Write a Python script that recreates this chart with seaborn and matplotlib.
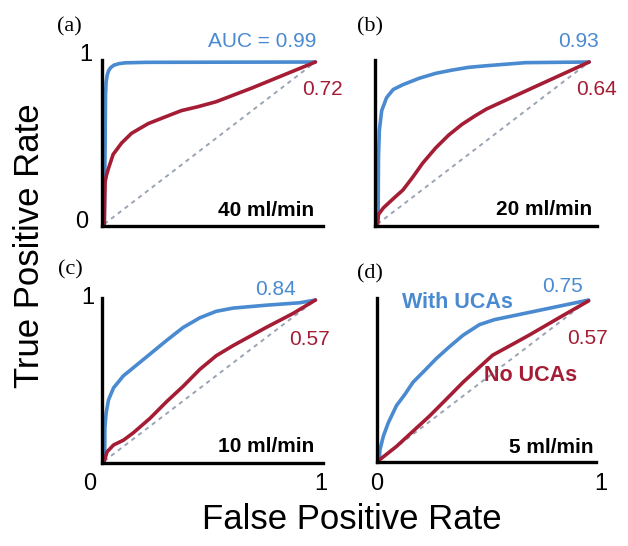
import numpy as np
import pandas as pd
import matplotlib
matplotlib.use("Agg")
import matplotlib.pyplot as plt
import seaborn as sns

# ROC curve points (FPR, TPR)
a_with_fpr = [0, 0.004, 0.006, 0.009, 0.014, 0.02, 0.03, 0.045, 0.07, 0.1, 0.2, 1.0]
a_with_tpr = [0, 0.5, 0.8, 0.88, 0.92, 0.945, 0.965, 0.98, 0.99, 0.995, 0.998, 1.0]
a_no_fpr = [0, 0.002, 0.004, 0.01, 0.019, 0.042, 0.082, 0.129, 0.208, 0.286, 0.365,
            0.443, 0.53, 0.7, 0.85, 1.0]
a_no_tpr = [0, 0.15, 0.26, 0.30, 0.34, 0.43, 0.50, 0.56, 0.62, 0.66, 0.70,
            0.724, 0.755, 0.84, 0.92, 1.0]

b_with_fpr = [0, 0.003, 0.005, 0.009, 0.02, 0.043, 0.074, 0.12, 0.198, 0.275, 0.352,
              0.43, 0.515, 0.7, 1.0]
b_with_tpr = [0, 0.04, 0.42, 0.58, 0.70, 0.78, 0.83, 0.86, 0.90, 0.93, 0.95,
              0.967, 0.977, 0.996, 1.0]
b_no_fpr = [0, 0.005, 0.028, 0.074, 0.12, 0.167, 0.213, 0.275, 0.337, 0.399, 0.46,
            0.515, 0.59, 0.76, 1.0]
b_no_tpr = [0, 0.06, 0.10, 0.156, 0.21, 0.29, 0.375, 0.47, 0.55, 0.615, 0.667,
            0.71, 0.755, 0.857, 1.0]

c_with_fpr = [0, 0.002, 0.003, 0.009, 0.02, 0.044, 0.091, 0.138, 0.217, 0.296, 0.374,
              0.453, 0.53, 0.61, 0.767, 0.925, 1.0]
c_with_tpr = [0, 0.046, 0.21, 0.30, 0.38, 0.455, 0.53, 0.58, 0.665, 0.75, 0.83,
              0.89, 0.93, 0.95, 0.968, 0.983, 1.0]
c_no_fpr = [0, 0.013, 0.044, 0.091, 0.138, 0.217, 0.296, 0.374, 0.453, 0.53, 0.61,
            0.767, 0.893, 1.0]
c_no_tpr = [0, 0.057, 0.10, 0.13, 0.176, 0.266, 0.37, 0.465, 0.57, 0.654, 0.717,
            0.83, 0.916, 1.0]

d_with_fpr = [0, 0.003, 0.019, 0.043, 0.082, 0.122, 0.161, 0.217, 0.272, 0.335, 0.4,
              0.478, 0.549, 1.0]
d_with_tpr = [0, 0.063, 0.148, 0.233, 0.34, 0.41, 0.486, 0.56, 0.634, 0.708, 0.78,
              0.846, 0.877, 1.0]
d_no_fpr = [0, 0.082, 0.161, 0.24, 0.32, 0.4, 0.478, 0.541, 0.636, 0.715, 0.873, 1.0]
d_no_tpr = [0, 0.085, 0.18, 0.275, 0.38, 0.486, 0.58, 0.655, 0.723, 0.78, 0.9, 0.995]

panels = ["(a)", "(b)", "(c)", "(d)"]
flow_rates = ["40 ml/min", "20 ml/min", "10 ml/min", "5 ml/min"]
auc_with = ["AUC = 0.99", "0.93", "0.84", "0.75"]
auc_no = ["0.72", "0.64", "0.57", "0.57"]

curves = [
    (a_with_fpr, a_with_tpr, a_no_fpr, a_no_tpr),
    (b_with_fpr, b_with_tpr, b_no_fpr, b_no_tpr),
    (c_with_fpr, c_with_tpr, c_no_fpr, c_no_tpr),
    (d_with_fpr, d_with_tpr, d_no_fpr, d_no_tpr),
]

sns.set_style("white")
plt.rcParams['font.family'] = ['Liberation Sans', 'DejaVu Sans']
plt.rcParams['text.color'] = 'black'

blue = "#4a8ad0"
red = "#a51d35"
grey = "#9aa4b3"

fig = plt.figure(figsize=(6.28, 5.46), dpi=100)

# axes rectangles in figure fraction
rects = [
    [0.162, 0.586, 0.352, 0.304],
    [0.597, 0.586, 0.353, 0.304],
    [0.162, 0.152, 0.352, 0.302],
    [0.600, 0.154, 0.349, 0.300],
]

# label positions in axes fraction, one entry per panel
panel_xy = [(-0.145, 1.2), (-0.02, 1.2), (-0.14, 1.17), (-0.03, 1.15)]
flow_xy = [(0.96, 0.096), (0.98, 0.1), (0.96, 0.1), (0.99, 0.09)]
with_xy = [(0.97, 1.11), (1.01, 1.11), (0.88, 1.05), (0.94, 1.07)]
no_xy = [(1.09, 0.825), (1.09, 0.825), (1.03, 0.75), (1.055, 0.756)]

for i, rect in enumerate(rects):
    ax = fig.add_axes(rect)
    wf, wt, nf, nt = curves[i]
    df = pd.concat([
        pd.DataFrame({"fpr": wf, "tpr": wt, "group": "With UCAs"}),
        pd.DataFrame({"fpr": nf, "tpr": nt, "group": "No UCAs"}),
    ])
    ax.plot([0, 1], [0, 1], color=grey, lw=1.4, dashes=(2.2, 2.2), zorder=1)
    sns.lineplot(data=df, x="fpr", y="tpr", hue="group", sort=False,
                 palette={"With UCAs": blue, "No UCAs": red},
                 lw=2.6, legend=False, ax=ax, zorder=2)
    ax.set_xlim(-0.012, 1.035)
    ax.set_ylim(-0.012, 1.012)
    ax.set_xticks([])
    ax.set_yticks([])
    ax.set_xlabel("")
    ax.set_ylabel("")
    for side in ["top", "right"]:
        ax.spines[side].set_visible(False)
    for side in ["left", "bottom"]:
        ax.spines[side].set_color("black")
        ax.spines[side].set_linewidth(2.4)

    ax.text(*panel_xy[i], panels[i], transform=ax.transAxes, fontsize=16,
            family="Liberation Serif", ha="center", va="center")
    ax.text(*flow_xy[i], flow_rates[i], transform=ax.transAxes, fontsize=15,
            fontweight="bold", ha="right", va="center")
    ax.text(*with_xy[i], auc_with[i], transform=ax.transAxes, fontsize=15,
            color=blue, ha="right", va="center")
    ax.text(*no_xy[i], auc_no[i], transform=ax.transAxes,
            fontsize=15, color=red, ha="right", va="center")

    if i == 0:
        ax.text(-0.072, 1.03, "1", transform=ax.transAxes, fontsize=17,
                ha="center", va="center")
        ax.text(-0.09, 0.024, "0", transform=ax.transAxes, fontsize=17,
                ha="center", va="center")
    if i == 2:
        ax.text(-0.063, 1.0, "1", transform=ax.transAxes, fontsize=17,
                ha="center", va="center")
        ax.text(-0.054, -0.127, "0", transform=ax.transAxes, fontsize=17,
                ha="center", va="center")
        ax.text(0.99, -0.127, "1", transform=ax.transAxes, fontsize=17,
                ha="center", va="center")
    if i == 3:
        ax.text(0.0, -0.135, "0", transform=ax.transAxes, fontsize=17,
                ha="center", va="center")
        ax.text(1.02, -0.135, "1", transform=ax.transAxes, fontsize=17,
                ha="center", va="center")
        ax.text(0.114, 0.975, "With UCAs", transform=ax.transAxes, fontsize=15.5,
                fontweight="bold", color=blue, ha="left", va="center")
        ax.text(0.49, 0.53, "No UCAs", transform=ax.transAxes, fontsize=15.5,
                fontweight="bold", color=red, ha="left", va="center")

fig.text(0.047, 0.55, "True Positive Rate", rotation=90, fontsize=25,
         ha="center", va="center")
fig.text(0.561, 0.048, "False Positive Rate", fontsize=25,
         ha="center", va="center")

fig.savefig("out.png", dpi=100)
